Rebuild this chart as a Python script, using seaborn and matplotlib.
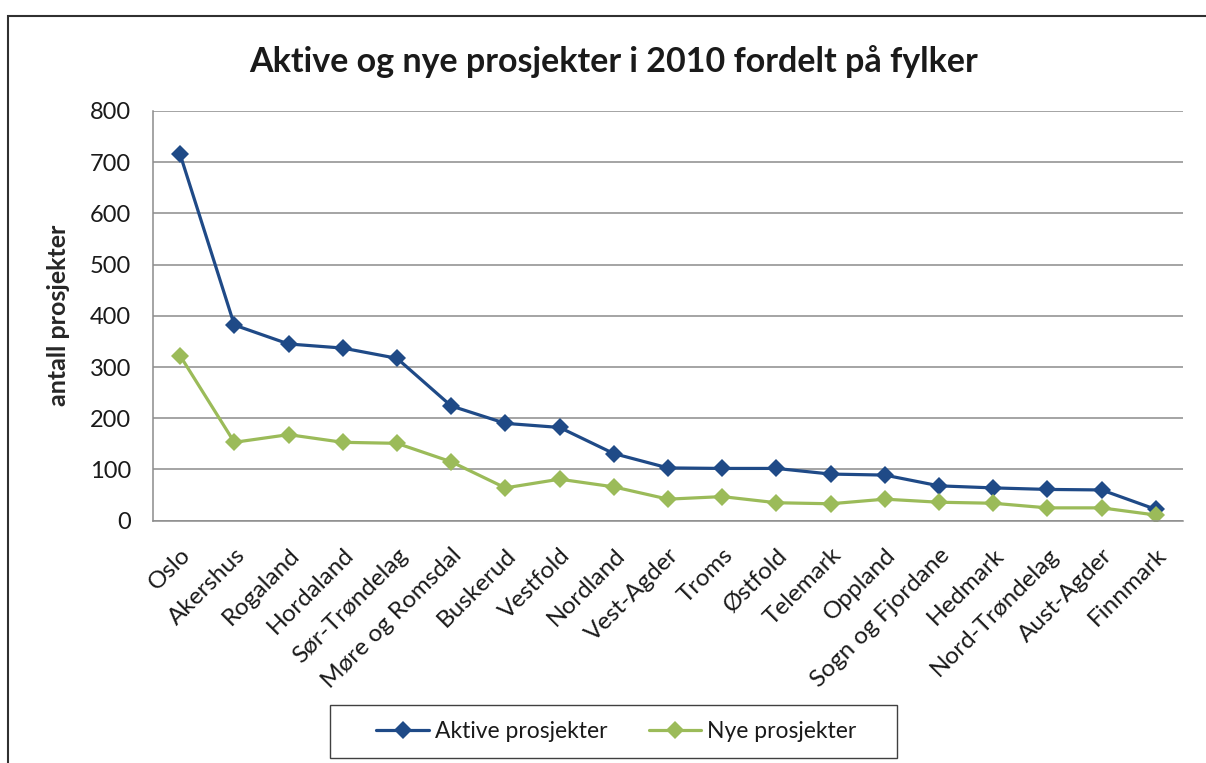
import pandas as pd
import matplotlib.pyplot as plt
import seaborn as sns
from matplotlib.patches import Rectangle

# Data
fylker = ["Oslo", "Akershus", "Rogaland", "Hordaland", "Sør-Trøndelag",
          "Møre og Romsdal", "Buskerud", "Vestfold", "Nordland", "Vest-Agder",
          "Troms", "Østfold", "Telemark", "Oppland", "Sogn og Fjordane",
          "Hedmark", "Nord-Trøndelag", "Aust-Agder", "Finnmark"]
aktive = [715, 382, 345, 337, 317, 224, 190, 182, 131, 103,
          102, 102, 91, 89, 68, 64, 61, 60, 22]
nye = [322, 153, 168, 153, 151, 115, 64, 81, 66, 42,
       47, 35, 33, 42, 36, 34, 25, 25, 11]
y_ticks = [0, 100, 200, 300, 400, 500, 600, 700, 800]

series_names = ["Aktive prosjekter", "Nye prosjekter"]
colors = {"Aktive prosjekter": "#1F4A87", "Nye prosjekter": "#9BBB59"}

df = pd.DataFrame({
    "Fylke": fylker * 2,
    "Antall": aktive + nye,
    "Serie": [series_names[0]] * len(fylker) + [series_names[1]] * len(fylker),
})

sns.set_style("white")
plt.rcParams["font.family"] = ["Lato", "DejaVu Sans"]
plt.rcParams["text.color"] = "#1A1A1A"

fig = plt.figure(figsize=(12.06, 7.63), dpi=100)
ax = fig.add_axes([0.1269, 0.3176, 0.854, 0.537])

for name in series_names:
    sub = df[df["Serie"] == name]
    sns.lineplot(data=sub, x="Fylke", y="Antall", ax=ax, color=colors[name],
                 marker="D", markersize=9, markeredgewidth=0, linewidth=2.3,
                 label=name, sort=False)

ax.set_xlim(-0.5, len(fylker) - 0.5)
ax.set_ylim(0, 800)
ax.set_yticks(y_ticks)
ax.yaxis.grid(True, color="#8C8C8C", linewidth=1.1)
ax.set_axisbelow(True)

ax.set_xticks(range(len(fylker)))
ax.set_xticklabels(fylker, rotation=45, ha="right", rotation_mode="anchor")
ax.set_xticks([i - 0.5 for i in range(len(fylker) + 1)], minor=True)
ax.tick_params(axis="x", which="major", length=0, pad=17, labelsize=17.5, labelcolor="#1A1A1A")
ax.tick_params(axis="x", which="minor", length=6, color="#8C8C8C", width=1.1)
ax.tick_params(axis="y", length=6, color="#8C8C8C", width=1.1, labelsize=17,
               pad=10, labelcolor="#1A1A1A")

for side in ["top", "right"]:
    ax.spines[side].set_visible(False)
for side in ["left", "bottom"]:
    ax.spines[side].set_color("#8C8C8C")
    ax.spines[side].set_linewidth(1.1)

ax.set_xlabel("")
ax.set_ylabel("antall prosjekter", fontsize=18, fontweight="bold", labelpad=14)
fig.text(0.509, 0.919, "Aktive og nye prosjekter i 2010 fordelt på fylker",
         ha="center", va="center", fontsize=24.5, fontweight="bold")

leg = ax.legend(loc="center", bbox_to_anchor=(0.511, 0.0413), bbox_transform=fig.transFigure,
                ncol=2, frameon=False, fontsize=16.5, handlelength=2.3,
                columnspacing=1.8, handletextpad=0.25)

# legend box (wider than the entries, as in the original)
fig.patches.append(Rectangle((330 / 1206, 1 - 758 / 763), 567 / 1206, 53 / 763,
                             transform=fig.transFigure, fill=False,
                             edgecolor="#404040", linewidth=1.0))
# outer chart frame (top and left edges visible)
fig.patches.append(Rectangle((0.0065, -0.05), 1.2, 1 - 16 / 763 + 0.05,
                             transform=fig.transFigure, fill=False,
                             edgecolor="#303030", linewidth=1.5))

fig.savefig("out.png", dpi=100)
